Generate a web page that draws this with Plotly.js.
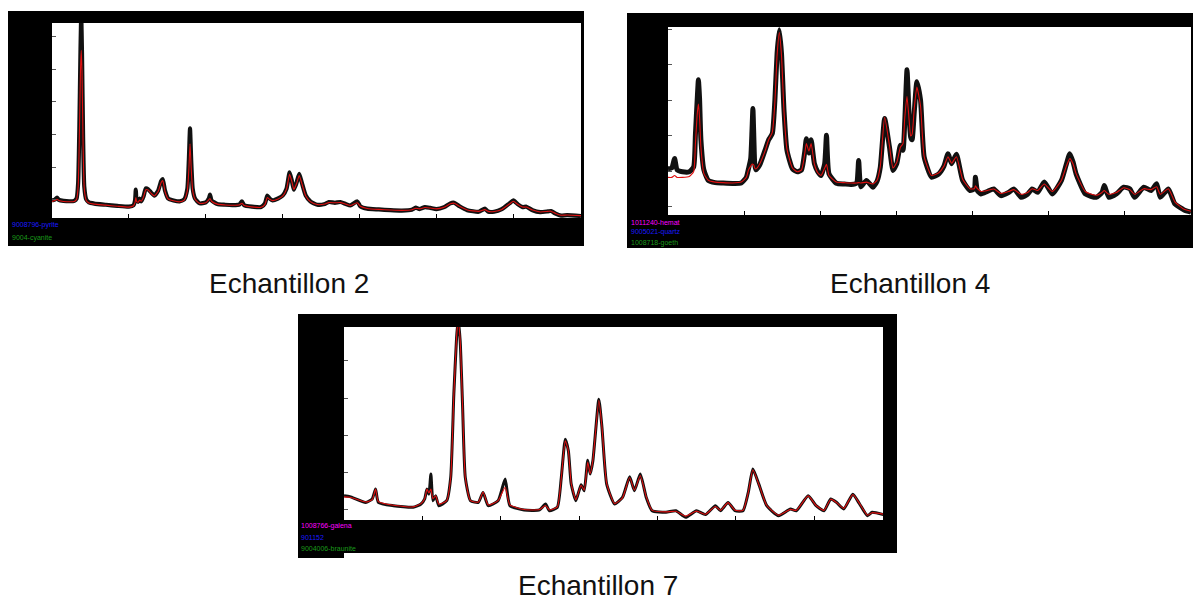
<!DOCTYPE html>
<html>
<head>
<meta charset="utf-8">
<script src="https://cdn.plot.ly/plotly-3.0.1.min.js"></script>
<style>html,body{margin:0;padding:0;background:#fff;}#chart{width:1193px;height:603px;}</style>
</head>
<body>
<div id="chart"></div>
<script>
// ---------- DATA (2θ in degrees, intensity in % of full scale) ----------
const sampleNames = ["Echantillon 2", "Echantillon 4", "Echantillon 7"];

const phases1 = ["9008796-pyrite", "9004-cyanite"];
const phaseColors1 = ["#1a1aff", "#1a9a1a"];
const phases2 = ["1011240-hemat", "9005021-quartz", "1008718-goeth"];
const phaseColors2 = ["#ff00ff", "#1a1aff", "#1a9a1a"];
const phases3 = ["1008766-galena", "901152", "9004006-braunite"];
const phaseColors3 = ["#ff00ff", "#1a1aff", "#1a9a1a"];

const x1 = [10.0,10.4,10.65,10.9,11.5,12.3,12.9,13.2,13.4,13.55,
  13.7,13.8,13.9,14.05,14.2,14.45,14.8,15.5,17.0,18.5,
  20.0,20.6,20.8,20.9,21.0,21.2,21.4,21.6,21.9,22.2,
  22.5,22.9,23.3,23.8,24.2,24.4,24.7,25.1,25.8,26.6,
  27.2,27.6,27.8,27.95,28.1,28.3,28.6,29.2,30.0,30.4,
  30.55,30.75,31.5,32.5,33.5,34.4,34.7,35.0,36.0,37.2,
  37.7,38.0,38.3,38.7,39.4,40.0,40.5,40.9,41.2,41.45,
  41.8,42.15,42.5,43.0,43.6,44.5,45.5,46.0,46.8,47.5,
  48.2,48.8,49.7,50.1,51.0,52.5,54.0,55.5,56.8,57.3,
  57.8,58.5,59.2,60.0,61.0,61.8,62.3,63.0,64.0,65.5,
  66.3,66.7,67.5,68.5,69.5,70.0,70.6,71.2,71.7,72.5,
  73.5,74.5,74.9,75.5,76.2,77.0,78.8];
const obs1 = [9,9.5,10.5,9.3,8.8,8.6,8.8,10,18,45,
  85,104,85,40,16,9.5,8,7.4,6.8,6.2,
  5.8,6.5,9,14.5,9,8.3,10,8.5,11,15.2,
  14.8,13,11.5,14,19,20,14,10,9,8.5,
  9.5,15,30,46,30,15,10,7.5,8,10,
  12,9,7.2,6.8,6.6,7,8.6,6.5,5.8,5.6,
  7.5,11.5,10,9,10,11.5,15,23.4,19,14.5,
  18,22.6,18,11.5,8.5,6.8,7.2,8.2,7.8,8.2,
  7.2,6.4,8.5,6.0,4.8,4.4,4.0,3.8,4.2,5.3,
  4.6,5.6,5.2,4.6,5.6,7.5,7.8,6,4,3.2,
  4.8,3.3,3.2,4.5,7.5,9,7,5.6,5.8,4,
  3,3.4,3.6,2.2,1.2,1.5,1];
const calc1 = [8.5,9,9.6,9,8.5,8.3,8.5,9.6,16,40,
  75,86,75,36,15,9,7.7,7.1,6.6,6.0,
  5.6,6.3,8,10.5,8.5,8.1,9.2,8.6,10.8,14.5,
  14.3,12.6,11.3,13.6,18.2,19.2,13.6,9.8,8.8,8.3,
  9.2,14,25,38,26,14,9.6,7.5,7.8,9.4,
  10,8.6,7.1,6.7,6.5,6.8,7.6,6.4,5.7,5.5,
  7,10.5,9.6,8.9,9.8,11.2,14.8,22.4,18.6,14.6,
  17.6,21.8,17.6,11.3,8.4,6.9,7.2,7.9,7.8,7.9,
  7.1,6.4,7.8,6.0,4.9,4.4,4.1,3.9,4.2,5.0,
  4.7,5.4,5.1,4.7,5.5,7.3,7.6,6.0,4.1,3.4,
  4.3,3.4,3.3,4.4,7.2,8.6,6.9,5.6,5.6,4.1,
  3.1,3.4,3.5,2.3,1.4,1.5,1.2];

const x2 = [10.0,10.5,10.87,11.2,11.9,12.8,13.37,13.61,13.85,14.0,
  14.15,14.33,14.72,15.3,16.2,17.22,18.5,19.63,20.3,20.59,
  20.88,21.05,21.17,21.3,21.41,21.56,22.04,22.76,23.24,23.72,
  24.06,24.35,24.64,24.93,25.26,25.65,26.37,27.0,27.57,28.0,
  28.2,28.54,28.83,29.26,29.7,30.13,30.61,30.85,31.18,32.15,
  33.2,34.07,34.8,35.08,35.37,36.1,36.96,37.5,37.93,38.5,
  39.13,39.6,40.09,40.57,40.91,41.15,41.44,41.73,41.92,42.11,
  42.4,42.74,43.22,43.7,44.67,45.63,46.3,46.83,47.31,47.94,
  48.76,49.72,50.3,50.44,50.7,51.17,52.0,52.85,53.8,54.8,
  55.5,56.46,57.3,57.9,58.63,59.5,60.55,61.76,62.4,62.86,
  63.3,63.68,64.89,66.33,67.1,67.39,68.0,68.98,69.94,70.76,
  71.39,72.59,73.55,74.28,74.76,75.82,76.68,77.89,78.8];
const obs2 = [24.6,25,30,24,23,23,25.5,43,62,72,
  62,40,24,18.4,17.2,17,16.8,17,20,24.6,
  30,45,56.7,40,27,24,26.4,34.4,40,43.3,
  61,86,98.6,86,55.8,34.4,24.6,23,24,34,
  40.6,33,40,27.3,23,21,27.3,42.4,21.9,16.9,
  16.5,16.2,17,29,15,18.4,14.8,18,25.5,51.3,
  36.2,23.7,27.3,37.1,34.4,50,77.2,52,41.5,40,
  55,70.9,61.1,30.8,20.1,21.9,26,32.6,27.3,32.3,
  18.4,13,14,20.1,13,11.2,12.5,13.9,10.3,12,
  13.9,9.4,11,13.9,12.1,17.5,11.2,18.4,27,32.6,
  28,21.9,11.2,9.4,12,15.7,9.4,11.2,14.8,13.9,
  9.4,14.8,13,16.6,9.4,13.9,5.9,2.7,1.5];
const calc2 = [20,20,21,20,20,20.5,23,38,54,59,
  52,36,22,18.5,17.5,17.2,17,17.5,20,24,
  26,27,27,26.5,25,24.5,27,34,40,44,
  60,85,97,85,55,35,25,23,24,33,
  38,34,38,27,22.5,21,25,27,21,17.5,
  17.2,17,17,17.2,17,17.5,16.5,18.5,26,52,
  37,25,28,36,38,52,63,50,42,43,
  57,68,58,31,21,22.5,26,31,27.5,31,
  19,14,14,15.5,14,12.5,13,13.8,11.5,12.5,
  13.5,11,12,14,13,16.5,12.5,18.5,26,30,
  27,22,12.5,10.5,12,13,11,12,14.5,13.5,
  11,14,13.5,15,11,14,7,3,2];

const x3 = [10.0,10.76,12.77,13.6,14.03,14.39,16.3,18.82,19.83,20.3,
  20.59,20.84,21.09,21.35,21.7,22.1,23.11,23.62,24.02,24.37,
  24.57,24.83,25.13,25.48,26.14,27.15,27.75,28.41,29.67,30.57,
  31.18,33.0,34.96,35.72,36.22,37.23,37.74,38.24,38.64,39.0,
  39.6,40.26,40.66,41.11,41.42,41.77,42.53,42.93,43.53,44.54,
  45.55,46.46,47.07,47.82,48.58,49.33,51.1,52.36,53.62,54.98,
  56.14,57.4,58.06,59.02,59.92,60.93,61.59,62.19,62.95,63.96,
  65.47,66.98,67.74,69.25,70.26,71.27,72.13,72.88,73.79,74.95,
  75.81,76.82,77.42,78.83];
const obs3 = [12.6,12.1,9.1,10.9,16,9.1,7.4,6.6,8.3,11,
  16,13.4,23.8,10,12.6,7.4,10,22.1,65.2,94.5,
  104,92.8,60,22.1,10,9.1,14.3,7.4,10,21.2,
  7.4,5.2,5.2,8.3,4.8,6.6,22.1,41.9,35.9,18.6,
  10,18.3,15.2,31,23.8,30.7,62.6,47.9,18.6,8.3,
  11.7,22.4,15.2,23.8,11.7,4.8,4,4.8,1.4,4.8,
  2.8,7.4,4.8,9.1,4.8,4.8,14,26.4,18.6,7.4,
  2.2,5.7,4.8,12.6,7.4,4.8,10.9,9.1,5.7,13.4,
  8.3,2.2,4,2.8];
const calc3 = [12,11.8,9.3,10.5,16,9.5,7.6,6.8,8.5,11,
  16,14,16,11,12.6,8.2,10,22,65,95,
  104,93,60,22,10,9.3,14.5,7.8,10,17,
  7.8,5.4,5.4,7.5,5.2,6.8,22,41,36,19,
  10.5,18,15.5,30,24,31,62,48,19,8.5,
  11.5,22,15.5,23,12,5,4.2,4.5,2,4.6,
  3,7,5,9,5,5,14,26,18.5,7.5,
  2.5,5.5,5,12.5,7.5,5,10.8,9,6,13.2,
  8.5,2.5,3.8,3];

const xRange = [10, 78.8];

// ---------- LAYOUT HELPERS ----------
const W = 1193, H = 603;
const fx = v => v / W;
const fy = v => 1 - v / H;

const panels = [
  {frame:[8,11,584,246],  plot:[52,23,581,218],  ytick0:9.4, ydtick:16.7, legend:{x:10, ys:[225,238]}, phases:phases1, colors:phaseColors1, caption:{x:289,y:283}, obsW:4.2},
  {frame:[627,13,1193,248], plot:[668,27,1191,215], ytick0:4.6, ydtick:18.8, legend:{x:629, ys:[222,232,243]}, phases:phases2, colors:phaseColors2, caption:{x:910,y:283}, obsW:5},
  {frame:[298,314,897,553], plot:[344,327,883,520], ytick0:5.2, ydtick:19.3, legend:{x:299, ys:[526,537,548]}, phases:phases3, colors:phaseColors3, caption:{x:598,y:585}, obsW:3}
];
const series = [[x1,obs1,calc1],[x2,obs2,calc2],[x3,obs3,calc3]];

const shapes = [];
const annotations = [];
const traces = [];
const layout = {
  width: W, height: H,
  margin: {l:0, r:0, t:0, b:0, pad:0},
  paper_bgcolor: '#ffffff',
  plot_bgcolor: '#ffffff',
  showlegend: false,
  font: {family: 'Liberation Sans, Arial, sans-serif', color: '#000'}
};

function rect(b, color) {
  shapes.push({type:'rect', xref:'paper', yref:'paper', layer:'below',
    x0: fx(b[0]), x1: fx(b[2]), y0: fy(b[3]), y1: fy(b[1]),
    fillcolor: color, line: {width: 0}});
}

panels.forEach((p, i) => {
  const n = i === 0 ? '' : String(i + 1);
  rect(p.frame, '#000000');
  rect(p.plot, '#ffffff');
  layout['xaxis' + n] = {
    domain: [fx(p.plot[0]), fx(p.plot[2])],
    anchor: 'y' + n, range: xRange,
    showgrid: false, zeroline: false, showline: false, showticklabels: false,
    ticks: 'inside', ticklen: 4, tickwidth: 1, tickcolor: '#000',
    tick0: 20, dtick: 10, fixedrange: true
  };
  layout['yaxis' + n] = {
    domain: [fy(p.plot[3]), fy(p.plot[1])],
    anchor: 'x' + n, range: [0, 100],
    showgrid: false, zeroline: false, showline: false, showticklabels: false,
    ticks: 'inside', ticklen: 4, tickwidth: 1, tickcolor: '#555',
    tick0: p.ytick0, dtick: p.ydtick, fixedrange: true
  };
  const [xs, ob, ca] = series[i];
  traces.push({x: xs, y: ob, type: 'scatter', mode: 'lines',
    xaxis: 'x' + n, yaxis: 'y' + n,
    line: {color: '#111111', width: p.obsW, shape: 'spline', smoothing: 0.5}, hoverinfo: 'skip'});
  traces.push({x: xs, y: ca, type: 'scatter', mode: 'lines',
    xaxis: 'x' + n, yaxis: 'y' + n,
    line: {color: '#e01010', width: 1.1, shape: 'spline', smoothing: 0.5}, hoverinfo: 'skip'});
  p.phases.forEach((name, k) => {
    annotations.push({xref:'paper', yref:'paper', x: fx(p.legend.x), y: fy(p.legend.ys[k]),
      xanchor:'left', yanchor:'middle', showarrow:false, text: name,
      font: {size: 7, color: p.colors[k], family: 'Liberation Sans, Arial, sans-serif'}});
  });
  annotations.push({xref:'paper', yref:'paper', x: fx(p.caption.x), y: fy(p.caption.y),
    xanchor:'center', yanchor:'middle', showarrow:false, text: sampleNames[i],
    font: {size: 28, color: '#111', family: 'Liberation Sans, Arial, sans-serif'}});
});
// small extra black tab at lower-left of panel 3
rect([298,553,344,558], '#000000');

layout.shapes = shapes;
layout.annotations = annotations;

Plotly.newPlot('chart', traces, layout, {staticPlot: true, displayModeBar: false});
</script>
</body>
</html>
